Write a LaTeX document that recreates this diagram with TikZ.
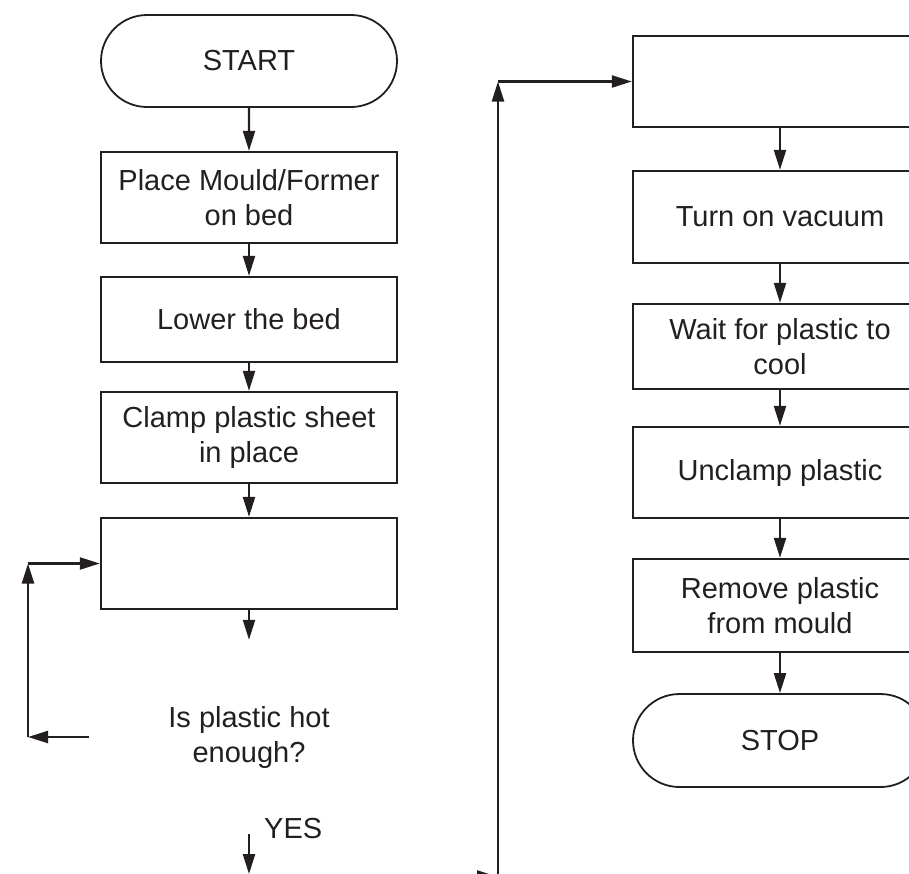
\documentclass[tikz,border=0pt]{standalone}
\usepackage{fontspec}
\setmainfont{Liberation Sans}
\usetikzlibrary{arrows.meta,shapes.misc}
\definecolor{ink}{HTML}{231F20}
\begin{document}
\begin{tikzpicture}[x=1pt,y=-1pt,
  every node/.style={font=\fontsize{29}{35}\selectfont, text=ink, inner sep=0pt, align=center},
  procbox/.style={draw=ink, line width=2.3pt, rectangle, minimum width=296pt},
  termbox/.style={draw=ink, line width=1.8pt, rounded rectangle, minimum width=296pt, minimum height=92pt},
  flow/.style={draw=ink, line width=2.3pt, -{Triangle[length=20pt,width=12pt]}},
  plain/.style={draw=ink, line width=2.3pt}
]
\useasboundingbox (0,0) rectangle (909,873);
\clip (0,0) rectangle (909,873);

% left column
\node[termbox] (start) at (249,61) {START};
\node[procbox, minimum height=91pt] (b1) at (249,197.5) {Place Mould/Former\\on bed};
\node[procbox, minimum height=85pt] (b2) at (249,319.5) {Lower the bed};
\node[procbox, minimum height=91pt] (b3) at (249,437.5) {Clamp plastic sheet\\in place};
\node[procbox, minimum height=91pt] (b4) at (249,563.5) {};
\node[minimum width=320pt, minimum height=194pt] (q) at (249,737) {Is plastic hot\\enough?};
\node[anchor=base west] (yes) at (264,838) {YES};
\coordinate (qend) at (249,874);
\coordinate (c1) at (28,737);
\coordinate (c2) at (28,563.5);

\draw[flow] (start) -- (b1);
\draw[flow] (b1) -- (b2);
\draw[flow] (b2) -- (b3);
\draw[flow] (b3) -- (b4);
\draw[flow] (b4.south) -- (q.north);
\draw[flow] (q.west) -- (c1);
\draw[flow] (c1) -- (c2);
\draw[flow] (c2) -- (b4.west);
\draw[flow] (q.south) -- (qend);

% right column
\node[procbox, minimum width=294pt, minimum height=91pt] (r1) at (780,81.5) {};
\node[procbox, minimum width=294pt, minimum height=92pt] (r2) at (780,217) {Turn on vacuum};
\node[procbox, minimum width=294pt, minimum height=85pt] (r3) at (780,346.5) {Wait for plastic to\\cool};
\node[procbox, minimum width=294pt, minimum height=91pt] (r4) at (780,472.5) {Unclamp plastic};
\node[procbox, minimum width=294pt, minimum height=93pt] (r5) at (780,605.5) {Remove plastic\\from mould};
\node[termbox, minimum width=294pt, minimum height=93pt] (stop) at (780,740.5) {STOP};

\draw[flow] (r1) -- (r2);
\draw[flow] (r2) -- (r3);
\draw[flow] (r3) -- (r4);
\draw[flow] (r4) -- (r5);
\draw[flow] (r5) -- (stop);

% right loop
\coordinate (rb) at (498,895);
\coordinate (rt) at (498,81.5);
\coordinate (ra) at (430,876.5);
\coordinate (rj) at (497,876.5);
\draw[flow] (rb) -- (rt);
\draw[flow] (rt) -- (r1.west);
\draw[flow] (ra) -- (rj);
\end{tikzpicture}
\end{document}
